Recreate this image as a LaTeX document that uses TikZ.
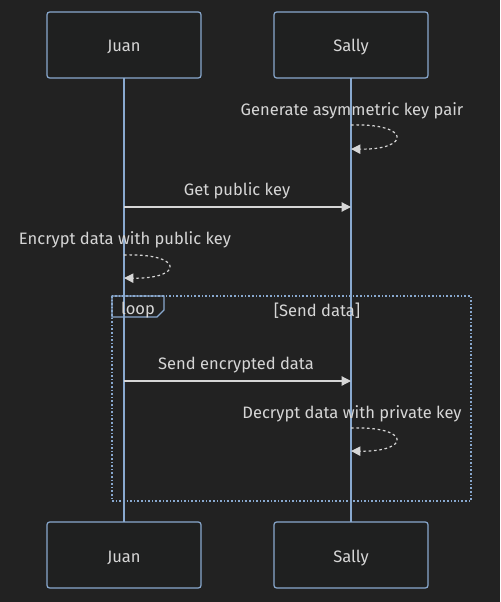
\documentclass[tikz,border=0pt]{standalone}
\usepackage{fontspec}
\setmainfont{Fira Sans}
\usetikzlibrary{arrows.meta}
\definecolor{bg}{HTML}{222222}
\definecolor{boxfill}{HTML}{1F2020}
\definecolor{lineblue}{HTML}{89A9CF}
\definecolor{txt}{HTML}{D6D6D6}
\tikzset{
  actor/.style={draw=lineblue, fill=boxfill, rounded corners=2pt, line width=0.9pt, minimum width=154*0.75pt, minimum height=66*0.75pt, inner sep=0pt, text=txt, font=\fontsize{12.4}{15}\selectfont, text height=10.5pt, text depth=0pt},
  lifeline/.style={draw=lineblue, line width=1.2pt},
  lbl/.style={text=txt, font=\fontsize{12.4}{15}\selectfont, inner sep=0pt},
  msg/.style={draw=txt, line width=0.9pt, -{Triangle[length=7pt,width=7pt]}},
  selfmsg/.style={draw=txt, line width=0.9pt, dash pattern=on 2pt off 2pt, -{Triangle[length=7pt,width=7pt]}},
  loopbox/.style={draw=lineblue, line width=1.2pt, dash pattern=on 1.2pt off 1.5pt},
}
\begin{document}
\begin{tikzpicture}[x=0.75pt,y=-0.75pt]
\fill[bg] (0,0) rectangle (500,602);
\useasboundingbox (0,0) rectangle (500,602);
% lifelines
\coordinate (jt) at (124,78);
\coordinate (jb) at (124,522);
\coordinate (st) at (351,78);
\coordinate (sb) at (351,522);
\draw[lifeline] (jt) -- (jb);
\draw[lifeline] (st) -- (sb);
% actors
\node[actor] (juanT) at (124,45) {Juan};
\node[actor] (sallyT) at (351,45) {Sally};
\node[actor] (juanB) at (124,555) {Juan};
\node[actor] (sallyB) at (351,555) {Sally};
% loop box
\draw[loopbox] (112,296) rectangle (471,501);
\draw[draw=lineblue, line width=0.9pt] (112,296) -- (164,296) -- (164,310) -- (157,317) -- (112,317) -- cycle;
\node[lbl] (looplbl) at (138,310) {loop};
\node[lbl] (cond) at (317,311) {[Send data]};
% self message 1
\node[lbl] (m1) at (352,111) {Generate asymmetric key pair};
\coordinate (m1a) at (351,125);
\coordinate (m1b) at (351,149);
\draw[selfmsg] (m1a) .. controls (411,123) and (411,150) .. (m1b);
% message 2
\node[lbl] (m2) at (237,191) {Get public key};
\coordinate (m2a) at (124,207);
\coordinate (m2b) at (351,207);
\draw[msg] (m2a) -- (m2b);
% self message 3
\node[lbl] (m3) at (125,240) {Encrypt data with public key};
\coordinate (m3a) at (124,255);
\coordinate (m3b) at (124,278);
\draw[selfmsg] (m3a) .. controls (184,253) and (184,279) .. (m3b);
% message 4
\node[lbl] (m4) at (236,365) {Send encrypted data};
\coordinate (m4a) at (124,381);
\coordinate (m4b) at (351,381);
\draw[msg] (m4a) -- (m4b);
% self message 5
\node[lbl] (m5) at (352,414) {Decrypt data with private key};
\coordinate (m5a) at (351,428);
\coordinate (m5b) at (351,451);
\draw[selfmsg] (m5a) .. controls (411,426) and (411,452) .. (m5b);
\end{tikzpicture}
\end{document}
